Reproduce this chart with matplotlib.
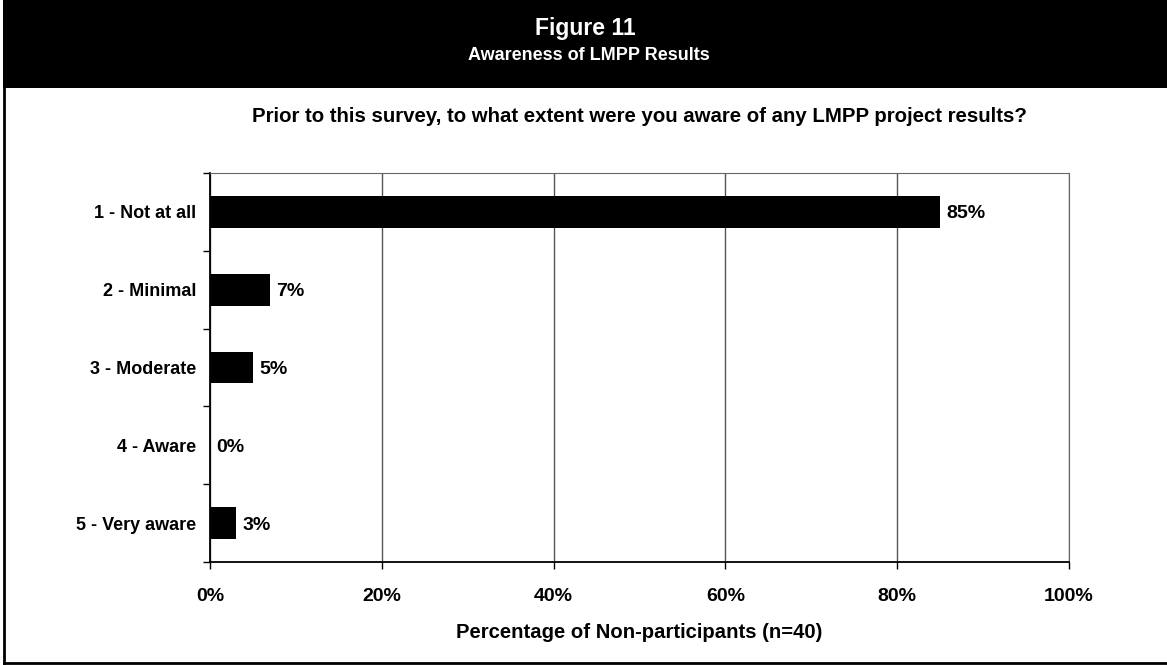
import matplotlib.pyplot as plt
from matplotlib.patches import Rectangle
from matplotlib.ticker import FixedLocator

plt.rcParams['font.family'] = ['Liberation Sans', 'DejaVu Sans']
plt.rcParams['font.weight'] = 'bold'

# Survey responses (non-participants, n=40)
categories = ["1 - Not at all", "2 - Minimal", "3 - Moderate", "4 - Aware", "5 - Very aware"]
percents = [85, 7, 5, 0, 3]
xticks = [0, 20, 40, 60, 80, 100]

W, H = 1167, 665
fig = plt.figure(figsize=(W / 100, H / 100), dpi=100)

# Header band and outer frame
fig.patches.append(Rectangle((3 / W, 1 - 88 / H), 1 - 3 / W, 88 / H, transform=fig.transFigure,
                             facecolor="black", edgecolor="none", zorder=0))
fig.add_artist(plt.Line2D([4 / W, 4 / W], [1, 1 - 663 / H], color="black", lw=2))
fig.add_artist(plt.Line2D([4 / W, 1], [1 - 663 / H, 1 - 663 / H], color="black", lw=2))

fig.text(585 / W, 1 - 29 / H, "Figure 11", color="white", fontsize=16.5, ha="center", va="center")
fig.text(589 / W, 1 - 56 / H, "Awareness of LMPP Results", color="white", fontsize=13,
         ha="center", va="center")
fig.text(639 / W, 1 - 116 / H,
         "Prior to this survey, to what extent were you aware of any LMPP project results?",
         fontsize=14.7, ha="center", va="center")

ax = fig.add_axes([210 / W, 1 - 562 / H, (1069 - 210) / W, (562 - 173) / H])
y = list(range(len(categories)))
ax.barh(y, percents, height=0.41, color="black", zorder=3)
for yi, v in zip(y, percents):
    ax.annotate(f"{v}%", (v, yi), xytext=(4.5, -1.5), textcoords="offset points",
                ha="left", va="center", fontsize=14)

ax.set_xlim(0, 100)
ax.set_ylim(len(categories) - 0.5, -0.5)
ax.set_xticks(xticks)
ax.set_xticklabels([f"{t}%" for t in xticks], fontsize=14)
ax.set_yticks(y)
ax.set_yticklabels(categories, fontsize=13)
ax.tick_params(axis="y", length=0, pad=10)
ax.yaxis.set_minor_locator(FixedLocator([i - 0.5 for i in range(len(categories) + 1)]))
ax.tick_params(axis="y", which="minor", length=5, width=1, color="black")
ax.tick_params(axis="x", length=5, width=1, pad=13.5)
ax.xaxis.grid(True, color="#555555", lw=1)
ax.set_axisbelow(True)

ax.spines["left"].set_color("black")
ax.spines["bottom"].set_color("black")
ax.spines["left"].set_linewidth(1.3)
ax.spines["bottom"].set_linewidth(1.3)
ax.spines["top"].set_color("#666666")
ax.spines["right"].set_color("#666666")

ax.set_xlabel("Percentage of Non-participants (n=40)", fontsize=14.6, fontweight="bold", va="center")
ax.xaxis.set_label_coords(0.5, (562 - 633) / (562 - 173))

fig.savefig("out.png", dpi=100)
